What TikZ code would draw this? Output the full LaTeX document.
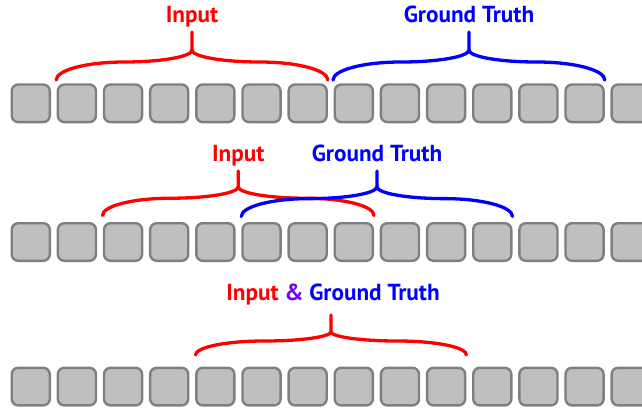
\documentclass[tikz,border=0pt]{standalone}
\usepackage{fontspec}
\setmainfont{PT Sans}
\usetikzlibrary{calc}
\definecolor{boxfill}{HTML}{BFBFBF}
\definecolor{boxline}{HTML}{7F7F7F}
\definecolor{inred}{HTML}{FF0000}
\definecolor{gtblue}{HTML}{0000FF}
\definecolor{ampviolet}{HTML}{7000FF}
\tikzset{
  cell/.style={draw=boxline, fill=boxfill, line width=2.4pt, rounded corners=6.5pt,
    minimum width=38.1pt, minimum height=37.6pt, inner sep=0pt},
  lbl/.style={font=\bfseries\fontsize{23.2}{26}\selectfont, anchor=base, inner sep=0pt},
  bracepath/.style={line width=3.3pt, line cap=round}
}
% \pbrace{color}{x0}{x1}{yEnd}{yCusp}{yTip}
\newcommand\pbrace[6]{%
  \pgfmathsetmacro\bxc{(#2+#3)/2}%
  \pgfmathsetmacro\brx{(\bxc-#2)/2}%
  \pgfmathsetmacro\bym{#5+0.4*(#4-#5)}%
  \pgfmathsetmacro\bra{#4-\bym}%
  \pgfmathsetmacro\brb{\bym-#5}%
  \pgfmathsetmacro\bk{0.5523}%
  \draw[bracepath, #1]
    (#2,#4) .. controls (#2,{#4-\bk*\bra}) and ({#2+\brx-\bk*\brx},\bym) .. ({#2+\brx},\bym)
    .. controls ({#2+\brx+\bk*\brx},\bym) and (\bxc,{#5+\bk*\brb}) .. (\bxc,#5)
    -- (\bxc,#6);
  \draw[bracepath, #1]
    (#3,#4) .. controls (#3,{#4-\bk*\bra}) and ({#3-\brx+\bk*\brx},\bym) .. ({#3-\brx},\bym)
    .. controls ({#3-\brx-\bk*\brx},\bym) and (\bxc,{#5+\bk*\brb}) .. (\bxc,#5);
}
\begin{document}
\begin{tikzpicture}[x=1pt,y=-1pt]
\useasboundingbox (0,0) rectangle (642,408);
\clip (0,0) rectangle (642,408);
% rows of cells
\foreach \r/\yc in {1/103.3, 2/242, 3/386.6} {
  \foreach \i in {0,...,13} {
    \node[cell] (r\r c\i) at ({30.75+\i*46.15},\yc) {};
  }
}
% row 1
\pbrace{inred}{56.2}{327.8}{80}{50}{32}
\pbrace{gtblue}{333}{604.8}{80}{50}{32}
\node[lbl, text=inred] (in1) at (192,22.7) {Input};
\node[lbl, text=gtblue] (gt1) at (469,22.7) {Ground Truth};
% row 2
\pbrace{inred}{102.5}{374}{215.5}{186.7}{171}
\pbrace{gtblue}{241.3}{512.5}{216.5}{186.7}{171}
\node[lbl, text=inred] (in2) at (238.3,161) {Input};
\node[lbl, text=gtblue] (gt2) at (377,161) {Ground Truth};
% row 3
\pbrace{inred}{195.5}{466.5}{355}{331.7}{315}
\node[lbl] (both) at (333,300) {\textcolor{inred}{Input} \textcolor{ampviolet}{\&} \textcolor{gtblue}{Ground Truth}};
\end{tikzpicture}
\end{document}
